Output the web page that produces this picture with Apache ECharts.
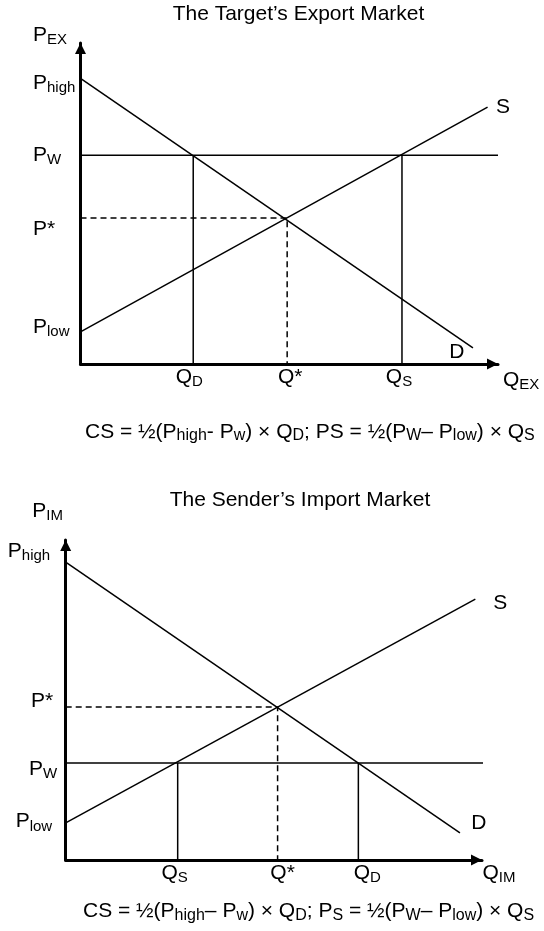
<!DOCTYPE html>
<html>
<head>
<meta charset="utf-8">
<script src="https://cdn.jsdelivr.net/npm/echarts@6/dist/echarts.min.js"></script>
<style>
  html, body { margin: 0; padding: 0; background: #fff; }
  #chart { width: 544px; height: 931px; }
</style>
</head>
<body>
<div id="chart"></div>
<script>
// ---- top: the target's export market ----
const exPriceTicks = [10, 45.5, 65, 89];
const exPriceNames = [['P', 'low'], ['P*', ''], ['P', 'W'], ['P', 'high']];
const exQtyTicks = [27, 49.5, 77];
const exQtyNames = [['Q', 'D'], ['Q*', ''], ['Q', 'S']];
const exDemand = [[0, 89], [94, 5]];
const exSupply = [[0, 10], [97.5, 80]];
const exWorld = [[0, 65], [100, 65]];
const exQD = [[27, 0], [27, 65]];
const exQS = [[77, 0], [77, 65]];
const exEquil = [[0, 45.5], [49.5, 45.5], [49.5, 0]];

// ---- bottom: the sender's import market ----
const imPriceTicks = [11.6, 30.3, 47.8, 93.1];
const imPriceNames = [['P', 'low'], ['P', 'W'], ['P*', ''], ['P', 'high']];
const imQtyTicks = [26.9, 50.9, 70.3];
const imQtyNames = [['Q', 'S'], ['Q*', ''], ['Q', 'D']];
const imDemand = [[0, 93.1], [94.7, 8.5]];
const imSupply = [[0, 11.6], [98.4, 81.5]];
const imWorld = [[0, 30.3], [104.3, 30.3]];
const imQS = [[26.9, 0], [26.9, 30.3]];
const imQD = [[70.3, 0], [70.3, 30.3]];
const imEquil = [[0, 47.8], [50.9, 47.8], [50.9, 0]];

// label nudges in px (layout only): [dx, dy]
const exPriceNudge = [[0, -5], [0, 11], [0, 0], [0, 5]];
const exQtyNudge = [[-4, 0], [3, 0], [-3, 0]];
const imPriceNudge = [[-5, -1.5], [0, 6], [-4, -5.5], [-7, -11]];
const imQtyNudge = [[-3, 0], [5, 0], [9, 0]];

const FONT = '"Liberation Sans", Arial, sans-serif';
const BIG = 21, SMALL = 15, SUBDROP = 5, LH = 68;

// base + subscript rich styles; dy moves the label down, padL / padR add room at the sides
function pair(dy, padL, padR, hasSub) {
  const b = { fontSize: BIG, fontFamily: FONT, color: '#000', lineHeight: LH, height: BIG, verticalAlign: 'top',
    padding: [dy + LH / 2 - BIG / 2, hasSub ? 0 : padR, 0, padL] };
  const s = { fontSize: SMALL, fontFamily: FONT, color: '#000', lineHeight: LH, height: SMALL, verticalAlign: 'top',
    padding: [dy + SUBDROP + LH / 2 - SMALL / 2, padR, 0, 0] };
  return [b, s];
}
// align: 'center' | 'left' | 'right'
function richFor(nudges, names, align) {
  const rich = {};
  nudges.forEach(function (n, i) {
    const dx = n[0], dy = n[1];
    let padL = 0, padR = 0;
    if (align === 'center') { if (dx > 0) padL = 2 * dx; else padR = -2 * dx; }
    else if (align === 'left') { padL = Math.max(dx, 0); }
    else { padR = Math.max(-dx, 0); }
    const p = pair(dy, padL, padR, !!names[i][1]);
    rich['b' + i] = p[0];
    rich['s' + i] = p[1];
  });
  return rich;
}
function tickText(name, i) {
  return '{b' + i + '|' + name[0] + '}' + (name[1] ? '{s' + i + '|' + name[1] + '}' : '');
}
function nameRich(dy, padR) {
  const p = pair(dy, 0, padR, true);
  return { b: p[0], s: p[1] };
}

function seg(data, idx, dashed) {
  return {
    type: 'line', xAxisIndex: idx, yAxisIndex: idx, data: data,
    symbol: 'none', clip: false, silent: true,
    lineStyle: { color: '#000', width: 1.5, type: dashed ? [6, 4] : 'solid' }
  };
}
function curve(data, idx, text, offset) {
  const s = seg(data, idx, false);
  s.endLabel = {
    show: true, formatter: text, offset: offset, distance: 0,
    align: 'center', verticalAlign: 'middle',
    fontSize: BIG, fontFamily: FONT, color: '#000'
  };
  return s;
}

const axisLine = {
  show: true, onZero: false,
  lineStyle: { color: '#000', width: 3 },
  symbol: ['none', 'triangle'], symbolSize: [11, 11], symbolOffset: [0, -5.5]
};

function xAxisFor(idx, ticks, names, nudges, axisName, gap, nameDrop) {
  return {
    gridIndex: idx, type: 'value', min: 0, max: 100,
    axisLine: axisLine, axisTick: { show: false }, splitLine: { show: false },
    axisLabel: {
      customValues: ticks, margin: 13, verticalAlign: 'middle', color: '#000', rich: richFor(nudges, names, 'center'),
      formatter: function (v) { const i = ticks.indexOf(v); return tickText(names[i], i); }
    },
    name: axisName, nameLocation: 'end', nameGap: gap, nameMoveOverlap: false,
    nameTextStyle: { align: 'left', verticalAlign: 'middle', rich: nameRich(nameDrop, 0) }
  };
}
function yAxisFor(idx, ticks, names, nudges, align, margin, axisName, gap, padRight) {
  return {
    gridIndex: idx, type: 'value', min: 0, max: 100,
    axisLine: axisLine, axisTick: { show: false }, splitLine: { show: false },
    axisLabel: {
      customValues: ticks, margin: margin, align: align, verticalAlign: 'middle', color: '#000', rich: richFor(nudges, names, align),
      formatter: function (v) { const i = ticks.indexOf(v); return tickText(names[i], i); }
    },
    name: axisName, nameLocation: 'end', nameGap: gap, nameMoveOverlap: false,
    nameTextStyle: { align: 'right', verticalAlign: 'middle', rich: nameRich(0, padRight) }
  };
}

const formulaRich = {
  b: { fontSize: BIG, fontFamily: FONT, fill: '#000', lineHeight: 24 },
  s: { fontSize: 16, fontFamily: FONT, fill: '#000', lineHeight: 14, verticalAlign: 'bottom' }
};

const chart = echarts.init(document.getElementById('chart'), null, { renderer: 'canvas' });
chart.setOption({
  animation: false,
  backgroundColor: '#fff',
  grid: [
    { left: 80.5, top: 43, right: 46, bottom: 567, outerBoundsMode: 'none' },
    { left: 65.7, top: 540, right: 62, bottom: 71, outerBoundsMode: 'none' }
  ],
  xAxis: [
    xAxisFor(0, exQtyTicks, exQtyNames, exQtyNudge, '{b|Q}{s|EX}', 5, 16),
    xAxisFor(1, imQtyTicks, imQtyNames, imQtyNudge, '{b|Q}{s|IM}', 0.5, 13)
  ],
  yAxis: [
    yAxisFor(0, exPriceTicks, exPriceNames, exPriceNudge, 'left', 47.5, '{b|P}{s|EX}', 8, 13.5),
    yAxisFor(1, imPriceTicks, imPriceNames, imPriceNudge, 'right', 8.5, '{b|P}{s|IM}', 29, 2.7)
  ],
  graphic: [
    { type: 'text', x: 298.5, y: 14, style: { text: 'The Target\u2019s Export Market', font: BIG + 'px ' + FONT, fill: '#000', align: 'center', verticalAlign: 'middle' } },
    { type: 'text', x: 300, y: 500, style: { text: 'The Sender\u2019s Import Market', font: BIG + 'px ' + FONT, fill: '#000', align: 'center', verticalAlign: 'middle' } },
    { type: 'text', x: 85, y: 432, style: {
      text: '{b|CS = \u00bd(P}{s|high}{b|- P}{s|w}{b|) \u00d7 Q}{s|D}{b|; PS = \u00bd(P}{s|W}{b|\u2013 P}{s|low}{b|) \u00d7 Q}{s|S}',
      rich: formulaRich, align: 'left', verticalAlign: 'middle' } },
    { type: 'text', x: 83, y: 911.5, style: {
      text: '{b|CS = \u00bd(P}{s|high}{b|\u2013 P}{s|w}{b|) \u00d7 Q}{s|D}{b|; P}{s|S}{b| = \u00bd(P}{s|W}{b|\u2013 P}{s|low}{b|) \u00d7 Q}{s|S}',
      rich: formulaRich, align: 'left', verticalAlign: 'middle' } }
  ],
  series: [
    curve(exDemand, 0, 'D', [-16, 4]),
    curve(exSupply, 0, 'S', [15.5, 0]),
    seg(exWorld, 0, false),
    seg(exQD, 0, false),
    seg(exQS, 0, false),
    seg(exEquil, 0, true),
    curve(imDemand, 1, 'D', [19, -10]),
    curve(imSupply, 1, 'S', [25, 4]),
    seg(imWorld, 1, false),
    seg(imQS, 1, false),
    seg(imQD, 1, false),
    seg(imEquil, 1, true)
  ]
});
</script>
</body>
</html>
